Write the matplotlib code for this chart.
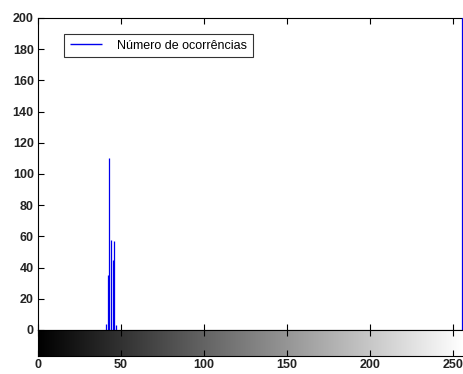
import numpy as np
import matplotlib
matplotlib.use("Agg")
import matplotlib.pyplot as plt

# data
intensity = [41, 42, 43, 44, 45, 46, 47, 255]
counts = [4, 35, 110, 58, 45, 57, 3, 1500]
yticks = [0, 20, 40, 60, 80, 100, 120, 140, 160, 180, 200]
xticks = [0, 50, 100, 150, 200, 250]
legend_label = "Número de ocorrências"

W, H = 463, 374
fig = plt.figure(figsize=(W / 100, H / 100), dpi=100)
fig.patch.set_facecolor("white")
plt.rcParams['font.family'] = ['Liberation Sans', 'DejaVu Sans']

left = 38 / W
right = 462.5 / W
XMAX = 255.5
ax = fig.add_axes([left, 1 - 330 / H, right - left, (330 - 18) / H])
cax = fig.add_axes([left, 1 - 356 / H, right - left, (356 - 330) / H])

ax.vlines(intensity, 0, counts, colors="#0000ee", linewidth=0.9, label=legend_label,
          zorder=5)
ax.set_xlim(0, XMAX)
ax.set_ylim(0, 200)
ax.set_yticks(yticks)
ax.set_xticks(xticks)
ax.set_xticklabels([])
ax.tick_params(direction="in", length=4, width=0.8, top=True, bottom=True,
               left=True, right=False, labelsize=9, colors="black", pad=3)
for lbl in ax.get_yticklabels():
    lbl.set_fontweight("bold")
    lbl.set_color("#222222")
for s in ax.spines.values():
    s.set_linewidth(0.8)
ax.spines["right"].set_visible(False)

leg = ax.legend(loc="upper left", bbox_to_anchor=(26 / 424.5, 1 - 16 / 312),
                frameon=True, fancybox=False, fontsize=9, handlelength=2.6,
                borderpad=0.45, handletextpad=1.2, borderaxespad=0)
leg.get_frame().set_edgecolor("black")
leg.get_frame().set_linewidth(0.8)
for ln in leg.get_lines():
    ln.set_linewidth(1.0)

grad = np.arange(256).reshape(1, -1)
cax.imshow(grad, cmap="gray", aspect="auto", extent=[0, XMAX, 0, 1], vmin=0, vmax=255)
cax.set_xlim(0, XMAX)
cax.set_ylim(0, 1)
cax.set_yticks([])
cax.set_xticks(xticks)
cax.tick_params(direction="in", length=4, width=0.8, top=True, bottom=True,
                labelsize=9, pad=2)
for lbl in cax.get_xticklabels():
    lbl.set_fontweight("bold")
    lbl.set_color("#222222")
for s in cax.spines.values():
    s.set_linewidth(0.8)
cax.spines["right"].set_visible(False)

fig.savefig("out.png", dpi=100)
